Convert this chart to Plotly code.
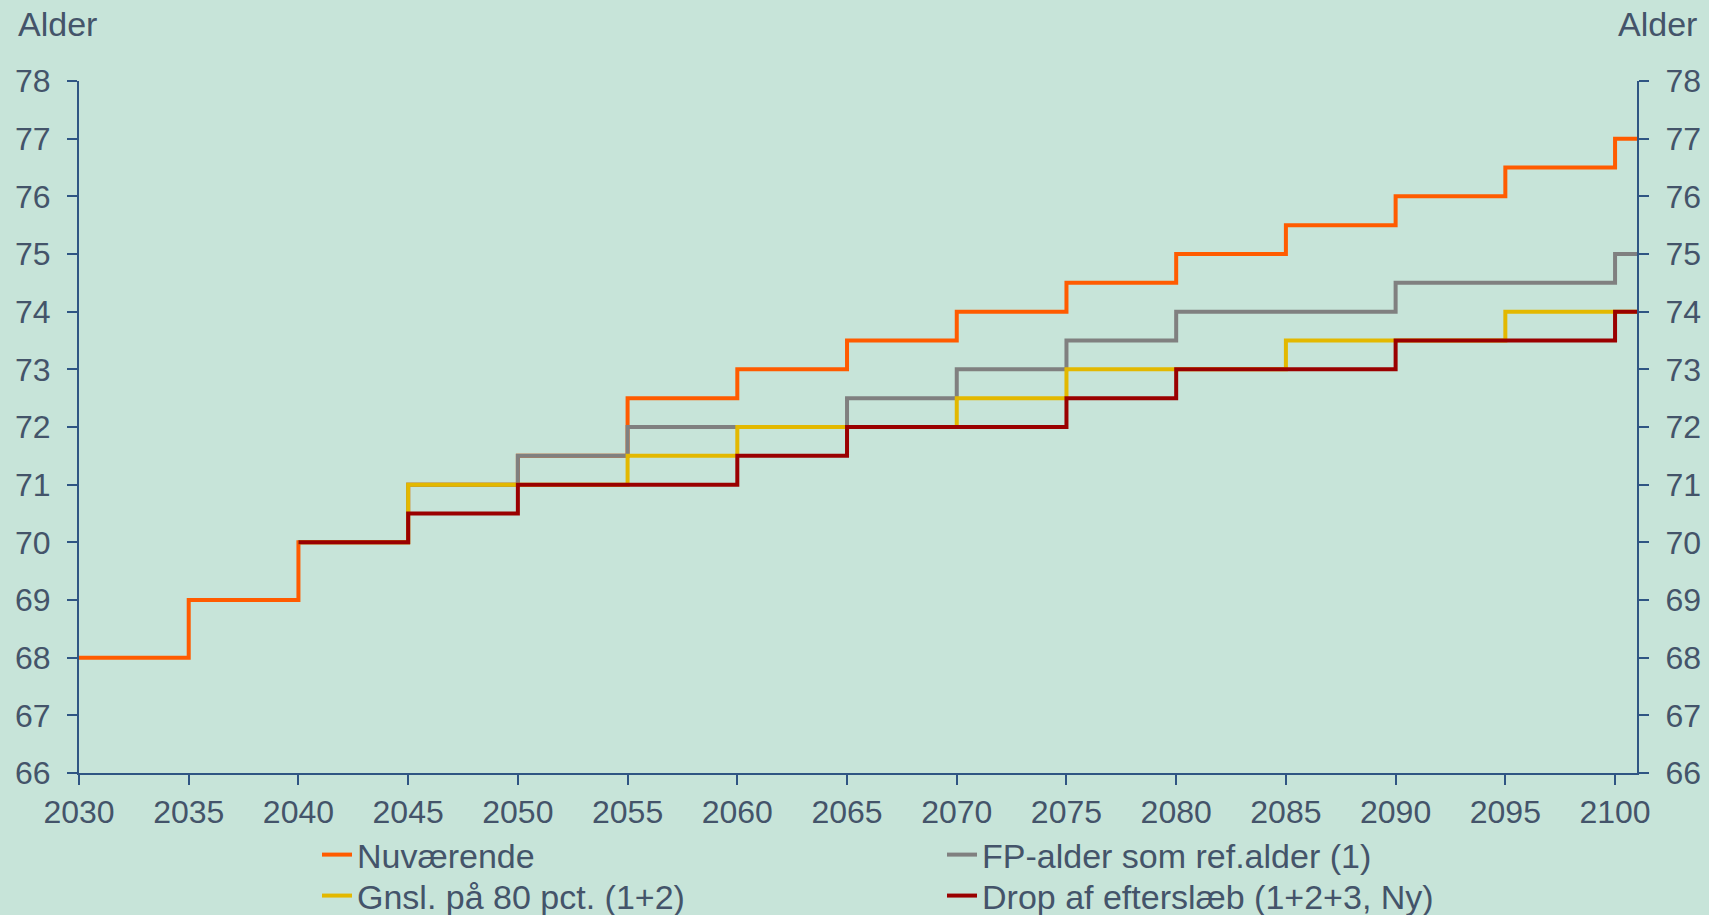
import plotly.graph_objects as go

# Step change years (final 2101 closes the last step at the axis end)
years = [2030, 2035, 2040, 2045, 2050, 2055, 2060, 2065, 2070, 2075, 2080, 2085, 2090, 2095, 2100, 2101]
nuvaerende = [68, 69, 70, 71, 71.5, 72.5, 73, 73.5, 74, 74.5, 75, 75.5, 76, 76.5, 77, 77]
fp_alder = [None, None, 70, 71, 71.5, 72, 72, 72.5, 73, 73.5, 74, 74, 74.5, 74.5, 75, 75]
gnsl_80 = [None, None, 70, 71, 71, 71.5, 72, 72, 72.5, 73, 73, 73.5, 73.5, 74, 74, 74]
drop_efterslaeb = [None, None, 70, 70.5, 71, 71, 71.5, 72, 72, 72.5, 73, 73, 73.5, 73.5, 74, 74]

series_names = ["Nuværende", "FP-alder som ref.alder (1)", "Gnsl. på 80 pct. (1+2)", "Drop af efterslæb (1+2+3, Ny)"]
series_values = [nuvaerende, fp_alder, gnsl_80, drop_efterslaeb]
series_colors = ["#FF5B00", "#808080", "#E3B800", "#9A0000"]
series_legend_row = ["legend", "legend", "legend2", "legend2"]

x_ticks = [2030, 2035, 2040, 2045, 2050, 2055, 2060, 2065, 2070, 2075, 2080, 2085, 2090, 2095, 2100]
y_ticks = [66, 67, 68, 69, 70, 71, 72, 73, 74, 75, 76, 77, 78]

BG = "#C7E4D9"
AXIS = "#2F5583"
TEXT = "#44546A"
FONT = "Liberation Sans, Arial, sans-serif"

fig = go.Figure()
for name, vals, col, lg in zip(series_names, series_values, series_colors, series_legend_row):
    fig.add_trace(go.Scatter(
        x=years, y=vals, name=name, mode="lines",
        line=dict(color=col, width=4, shape="hv"),
        connectgaps=False, legend=lg,
    ))

axis_common = dict(
    showgrid=False, zeroline=False, showline=True, linecolor=AXIS, linewidth=2,
    ticks="outside", ticklen=10, tickwidth=2, tickcolor=AXIS,
    tickfont=dict(family=FONT, size=32, color=TEXT),
)

legend_common = dict(
    orientation="h", x=(317 - 79) / 1558, xanchor="left", yanchor="top",
    font=dict(family=FONT, size=34, color=TEXT),
    bgcolor="rgba(0,0,0,0)", entrywidth=580, entrywidthmode="pixels",
    tracegroupgap=0, itemwidth=30,
)

fig.update_layout(
    width=1709, height=915,
    paper_bgcolor=BG, plot_bgcolor=BG,
    margin=dict(l=79, r=72, t=81, b=142, autoexpand=False),
    font=dict(family=FONT, color=TEXT),
    xaxis=dict(range=[2030, 2101], tickvals=x_ticks, ticklabelstandoff=0, **axis_common),
    yaxis=dict(range=[66, 78], tickvals=y_ticks, ticklabelstandoff=10, **axis_common),
    yaxis2=dict(range=[66, 78], tickvals=y_ticks, overlaying="y", side="right",
                ticklabelstandoff=10, **axis_common),
    showlegend=True,
    legend=dict(y=-0.0766, **legend_common),
    legend2=dict(y=-0.1358, **legend_common),
    annotations=[
        dict(text="Alder", xref="paper", yref="paper", x=-79 / 1558 + 16 / 1558, y=1 + 57 / 692,
             xanchor="left", yanchor="middle", showarrow=False,
             font=dict(family=FONT, size=34, color=TEXT)),
        dict(text="Alder", xref="paper", yref="paper", x=1 + 62 / 1558, y=1 + 57 / 692,
             xanchor="right", yanchor="middle", showarrow=False,
             font=dict(family=FONT, size=34, color=TEXT)),
    ],
)
# invisible trace to activate the right-hand axis
fig.add_trace(go.Scatter(x=[2030], y=[66], yaxis="y2", mode="markers",
                         marker=dict(opacity=0), showlegend=False, hoverinfo="skip"))

fig.write_html("out.html", config={"displayModeBar": False},
               post_script="document.body.style.margin='0';document.body.style.overflow='hidden';")
